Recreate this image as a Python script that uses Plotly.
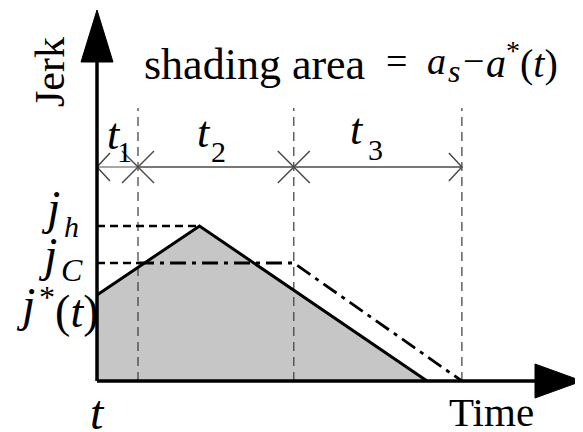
import plotly.graph_objects as go

# ---- data (time in arbitrary units, jerk in arbitrary units) ----
phase_bounds = [0.0, 1.0, 4.8, 8.9]          # start, end of t1, end of t2, end of t3
phase_subs = ["1", "2", "3"]
j_star0 = 0.86                               # j*(t)
j_h = 1.55
j_C = 1.18
peak_time = 2.5
solid_end_time = 8.05
solid_t = [0.0, peak_time, solid_end_time]
solid_j = [j_star0, j_h, 0.0]
dashdot_t = [phase_bounds[1], phase_bounds[2], phase_bounds[3]]
dashdot_j = [j_C, j_C, 0.0]
dim_level = 2.14
vline_top = 2.73

OFF = 8                      # page body margin
W, H = 583 - OFF, 432 - OFF  # figure size
PX_X = 41.0   # px per time unit
PX_Y = 100.0  # px per jerk unit
X0, Y0 = 97 - OFF, 381 - OFF
xr = [-X0 / PX_X, (W - X0) / PX_X]
yr = [(Y0 - H) / PX_Y, Y0 / PX_Y]

FONT = "Liberation Serif, Times New Roman, Times, serif"
BLACK = "#000000"

fig = go.Figure()

# shaded area
fig.add_trace(go.Scatter(x=[0] + solid_t + [0], y=[0] + solid_j + [0], fill="toself",
                         fillcolor="#c6c6c6", line=dict(width=0), mode="lines",
                         hoverinfo="skip"))

# vertical dashed guide lines
for t in phase_bounds[1:]:
    fig.add_trace(go.Scatter(x=[t, t], y=[0, vline_top], mode="lines",
                             line=dict(color="#3a3a3a", width=1.2, dash="9px,6px")))

# j_h dashed
fig.add_trace(go.Scatter(x=[0, peak_time], y=[j_h, j_h], mode="lines",
                         line=dict(color=BLACK, width=2.5, dash="8px,5px")))
# j_C short dashes
fig.add_trace(go.Scatter(x=[0, phase_bounds[1]], y=[j_C, j_C], mode="lines",
                         line=dict(color=BLACK, width=2.5, dash="8px,5px")))
# j_C dash-dot profile
fig.add_trace(go.Scatter(x=dashdot_t, y=dashdot_j, mode="lines",
                         line=dict(color=BLACK, width=2.8, dash="16px,6px,4px,6px")))
# solid jerk profile
fig.add_trace(go.Scatter(x=solid_t, y=solid_j, mode="lines",
                         line=dict(color=BLACK, width=3)))

# dimension line
fig.add_trace(go.Scatter(x=[0, phase_bounds[1]], y=[dim_level, dim_level], mode="lines",
                         line=dict(color="#8a8a8a", width=1.5)))
fig.add_trace(go.Scatter(x=[phase_bounds[1], phase_bounds[3]], y=[dim_level, dim_level],
                         mode="lines", line=dict(color="#4a4a4a", width=1.5)))
dx, dy = 16 / PX_X, 16 / PX_Y
mx, my = [], []
for t in phase_bounds[1:3]:
    mx += [t - dx, t + dx, None, t - dx, t + dx, None]
    my += [dim_level + dy, dim_level - dy, None, dim_level - dy, dim_level + dy, None]
# end arrows
a_dx, a_dy = 13 / PX_X, 14 / PX_Y
t0, t3 = phase_bounds[0], phase_bounds[3]
mx += [t0 + a_dx, t0, t0 + a_dx, None, t3 - a_dx, t3, t3 - a_dx, None]
my += [dim_level + a_dy, dim_level, dim_level - a_dy, None,
       dim_level + a_dy, dim_level, dim_level - a_dy, None]
fig.add_trace(go.Scatter(x=mx, y=my, mode="lines", line=dict(color="#4a4a4a", width=1.5)))

# axes
y_arrow_base, y_arrow_tip = (381 - 62) / PX_Y, (381 - 10) / PX_Y
x_arrow_base, x_arrow_tip = (535 - 97) / PX_X, (582 - 97) / PX_X
fig.add_trace(go.Scatter(x=[0, 0], y=[0, y_arrow_base], mode="lines",
                         line=dict(color=BLACK, width=3.5)))
fig.add_trace(go.Scatter(x=[0, x_arrow_base], y=[0, 0], mode="lines",
                         line=dict(color=BLACK, width=3.5)))
hw = 16 / PX_X
fig.add_trace(go.Scatter(x=[-hw, hw, 0, -hw], y=[y_arrow_base, y_arrow_base, y_arrow_tip, y_arrow_base],
                         fill="toself", fillcolor=BLACK, mode="lines", line=dict(color=BLACK, width=1)))
hh = 17 / PX_Y
fig.add_trace(go.Scatter(x=[x_arrow_base, x_arrow_base, x_arrow_tip, x_arrow_base], y=[hh, -hh, 0, hh],
                         fill="toself", fillcolor=BLACK, mode="lines", line=dict(color=BLACK, width=1)))

def px(xp):
    return (xp - OFF) / W

def py(yp):
    return 1 - (yp - OFF) / H

annotations = []
def add_text(text, x, baseline, size=40, angle=0, xanchor="center", italic=False):
    if italic:
        text = "<i>" + text + "</i>"
    yc = baseline - 0.36 * size
    annotations.append(dict(text=text, x=px(x), y=py(yc), xref="paper", yref="paper",
                            showarrow=False, xanchor=xanchor, yanchor="middle",
                            textangle=angle,
                            font=dict(family=FONT, size=size, color=BLACK)))

# axis titles
annotations.append(dict(text="Jerk", x=px(50), y=py(72), xref="paper", yref="paper",
                        showarrow=False, textangle=-90, xanchor="center", yanchor="middle",
                        font=dict(family=FONT, size=42, color=BLACK)))
add_text("Time", 491, 427, size=41)
add_text("t", 97, 430, size=48, italic=True)

# headline formula
add_text("shading area", 142, 80, size=44, xanchor="left")
add_text("=", 396, 75, size=38)
add_text("a", 436, 75, size=38, italic=True)
add_text("s", 454, 83, size=32, italic=True)
add_text("−", 473, 75, size=38)
add_text("<i>a</i><sup>*</sup>(<i>t</i>)", 484, 75, size=40, xanchor="left")

# phase labels
t_x = [114, 204, 357]
t_base = [150, 148, 145]
sub_x = [124, 218, 375]
sub_base = [162, 162, 160]
for s, tx, tb, sx, sb in zip(phase_subs, t_x, t_base, sub_x, sub_base):
    add_text("t", tx, tb, size=44, italic=True)
    add_text(s, sx, sb, size=30)

# jerk level labels
add_text("j", 50, 225, size=48, italic=True)
add_text("h", 71, 237, size=30, italic=True)
add_text("j", 47, 272, size=48, italic=True)
add_text("C", 72, 282, size=32, italic=True)
add_text("j", 25, 322, size=48, italic=True)
add_text("<sup>*</sup>(<i>t</i>)", 37, 325, size=46, xanchor="left")

fig.update_layout(width=W, height=H, margin=dict(l=0, r=0, t=0, b=0),
                  plot_bgcolor="white", paper_bgcolor="white", showlegend=False,
                  annotations=annotations,
                  xaxis=dict(range=xr, visible=False, fixedrange=True),
                  yaxis=dict(range=yr, visible=False, fixedrange=True))
fig.write_html("out.html")
